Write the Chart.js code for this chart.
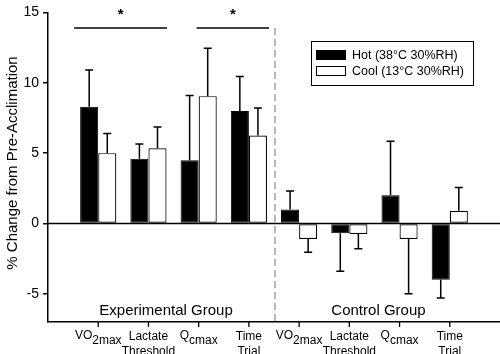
<!DOCTYPE html>
<html>
<head>
<meta charset="utf-8">
<script src="https://cdn.jsdelivr.net/npm/chart.js@4.4.1/dist/chart.umd.min.js"></script>
<style>
  html, body { margin: 0; padding: 0; background: #fff; }
</style>
</head>
<body>
<canvas id="chart" width="500" height="354"></canvas>
<script>
// ===== Data =====
const categories = ['VO2max', 'Lactate Threshold', 'Qcmax', 'Time Trial', 'VO2max', 'Lactate Threshold', 'Qcmax', 'Time Trial'];
const hotMean  = [8.3, 4.6, 4.5, 8.0, 1.0, -0.7, 2.0, -4.0];
const hotErr   = [2.6, 1.05, 4.6, 2.45, 1.3, 2.7, 3.85, 1.3];
const coolMean = [5.0, 5.35, 9.05, 6.25, -1.1, -0.75, -1.1, 0.9];
const coolErr  = [1.4, 1.5, 3.4, 1.95, 0.95, 1.05, 3.9, 1.65];
const yTicks = [-5, 0, 5, 10, 15];
const groupNames = ['Experimental Group', 'Control Group'];
const seriesNames = ['Hot (38°C 30%RH)', 'Cool (13°C 30%RH)'];

const FONT = '"Liberation Sans", Arial, sans-serif';

// pad with an empty slot on both ends so the axis runs past the first/last category
const labels = [''].concat(categories, ['']);
const pad = arr => [null].concat(arr, [null]);
const errs = [pad(hotErr), pad(coolErr)];

const extras = {
    id: 'extras',
    afterDatasetsDraw(chart) {
        const ctx = chart.ctx;
        const x = chart.scales.x, y = chart.scales.y;
        const area = chart.chartArea;
        ctx.save();

        // zero line
        ctx.strokeStyle = '#000';
        ctx.lineWidth = 1.3;
        ctx.beginPath();
        ctx.moveTo(area.left, y.getPixelForValue(0));
        ctx.lineTo(area.right, y.getPixelForValue(0));
        ctx.stroke();

        // one-sided error bars
        ctx.lineWidth = 1.5;
        chart.data.datasets.forEach((ds, di) => {
            const meta = chart.getDatasetMeta(di);
            meta.data.forEach((bar, i) => {
                const v = ds.data[i];
                if (v === null) return;
                const e = errs[di][i];
                const end = v >= 0 ? v + e : v - e;
                const py0 = y.getPixelForValue(v), py1 = y.getPixelForValue(end);
                ctx.beginPath();
                ctx.moveTo(bar.x, py0);
                ctx.lineTo(bar.x, py1);
                ctx.moveTo(bar.x - 4, py1);
                ctx.lineTo(bar.x + 4, py1);
                ctx.stroke();
            });
        });

        // dashed separator between groups
        const sepX = x.getPixelForValue(4.52);
        ctx.strokeStyle = '#8a8a8a';
        ctx.lineWidth = 1.2;
        ctx.setLineDash([7, 4]);
        ctx.beginPath();
        ctx.moveTo(sepX, y.getPixelForValue(13.9));
        ctx.lineTo(sepX, area.bottom);
        ctx.stroke();
        ctx.setLineDash([]);

        // significance bars
        ctx.strokeStyle = '#000';
        ctx.fillStyle = '#000';
        ctx.lineWidth = 1.5;
        const sigY = y.getPixelForValue(13.9);
        [[0.52, 2.37], [2.96, 4.40]].forEach(([a, b]) => {
            const xa = x.getPixelForValue(a), xb = x.getPixelForValue(b);
            ctx.beginPath();
            ctx.moveTo(xa, sigY);
            ctx.lineTo(xb, sigY);
            ctx.stroke();
            ctx.font = 'bold 15px ' + FONT;
            ctx.textAlign = 'center';
            ctx.textBaseline = 'middle';
            ctx.fillText('*', (xa + xb) / 2, sigY - 13);
        });

        // legend
        const lx = 311, ly = 41, lw = 162, lh = 44;
        ctx.lineWidth = 1;
        ctx.strokeRect(lx + 0.5, ly + 0.5, lw, lh);
        ctx.font = '12.5px ' + FONT;
        ctx.textAlign = 'left';
        ctx.textBaseline = 'middle';
        chart.data.datasets.forEach((ds, di) => {
            const ry = ly + 14 + di * 16;
            ctx.fillStyle = ds.backgroundColor;
            ctx.fillRect(lx + 5.5, ry - 4.5, 29, 9);
            ctx.strokeStyle = '#000';
            ctx.strokeRect(lx + 5.5, ry - 4.5, 29, 9);
            ctx.fillStyle = '#000';
            ctx.fillText(ds.label, lx + 41, ry + 1);
        });

        // x tick marks and category labels (with subscripts)
        ctx.lineWidth = 1.3;
        ctx.textBaseline = 'alphabetic';
        categories.forEach((c, i) => {
            const px = x.getPixelForValue(i + 1);
            ctx.beginPath();
            ctx.moveTo(px, area.bottom);
            ctx.lineTo(px, area.bottom + 5);
            ctx.stroke();
            const m = c.match(/^(VO|Q)(2max|cmax)$/);
            ctx.font = '12px ' + FONT;
            if (m) {
                const w1 = ctx.measureText(m[1]).width;
                const w2 = ctx.measureText(m[2]).width;
                const sx = px - (w1 + w2) / 2;
                ctx.textAlign = 'left';
                ctx.fillText(m[1], sx, 339);
                ctx.fillText(m[2], sx + w1, 344);
            } else {
                ctx.textAlign = 'center';
                c.split(' ').forEach((p, k) => ctx.fillText(p, px, 340 + k * 15));
            }
        });

        // group labels
        ctx.font = '15px ' + FONT;
        ctx.textAlign = 'center';
        ctx.fillText(groupNames[0], x.getPixelForValue(2.35), 315);
        ctx.fillText(groupNames[1], x.getPixelForValue(6.58), 315);

        // y axis title
        ctx.save();
        ctx.translate(13, 163);
        ctx.rotate(-Math.PI / 2);
        ctx.font = '15px ' + FONT;
        ctx.textAlign = 'center';
        ctx.textBaseline = 'middle';
        ctx.fillText('% Change from Pre-Acclimation', 0, 0);
        ctx.restore();

        ctx.restore();
    }
};

const ctx = document.getElementById('chart').getContext('2d');
new Chart(ctx, {
    type: 'bar',
    data: {
        labels: labels,
        datasets: [
            {
                label: seriesNames[0],
                data: pad(hotMean),
                backgroundColor: '#000',
                borderColor: '#000',
                borderWidth: 1,
                borderSkipped: false
            },
            {
                label: seriesNames[1],
                data: pad(coolMean),
                backgroundColor: '#fff',
                borderColor: '#000',
                borderWidth: 1.2,
                borderSkipped: false
            }
        ]
    },
    options: {
        responsive: false,
        animation: false,
        devicePixelRatio: 1,
        layout: { padding: { top: 5, right: 0, left: 0, bottom: 0 } },
        datasets: { bar: { categoryPercentage: 0.72, barPercentage: 1 } },
        plugins: { legend: { display: false }, tooltip: { enabled: false } },
        scales: {
            x: {
                type: 'category',
                offset: false,
                grid: { display: false },
                border: { display: true, color: '#000', width: 1.5 },
                ticks: { display: false },
                afterFit: s => { s.height = 32; }
            },
            y: {
                min: -7,
                max: 15,
                afterBuildTicks: s => { s.ticks = yTicks.map(v => ({ value: v })); },
                ticks: { color: '#000', font: { family: FONT, size: 14 }, padding: 4 },
                grid: { drawOnChartArea: false, drawTicks: true, tickLength: 5, color: '#000', lineWidth: 1.5 },
                border: { color: '#000', width: 1.5 },
                afterFit: s => { s.width = 48; }
            }
        }
    },
    plugins: [extras]
});
</script>
</body>
</html>
